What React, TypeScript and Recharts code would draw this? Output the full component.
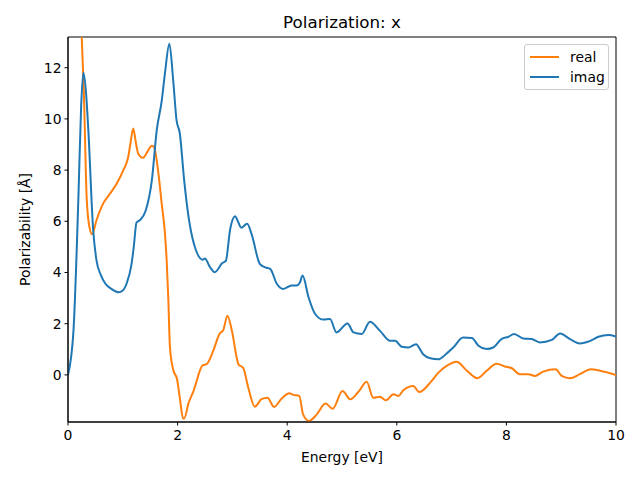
import { LineChart, Line, XAxis, YAxis, ReferenceArea } from 'recharts'

const imagEnergy = [
  0, 0.1, 0.19, 0.24, 0.28, 0.33, 0.37, 0.46, 0.52, 0.6, 0.68, 0.8, 0.92, 1.0, 1.07, 1.16, 1.2, 1.25, 1.31, 1.42,
  1.53, 1.62, 1.71, 1.77, 1.85, 1.92, 1.98, 2.04, 2.12, 2.2, 2.3, 2.46, 2.5, 2.58, 2.68, 2.76, 2.8, 2.88, 2.96, 3.05,
  3.1, 3.16, 3.27, 3.35, 3.5, 3.6, 3.69, 3.81, 3.93, 4.08, 4.17, 4.23, 4.28, 4.39, 4.51, 4.66, 4.78, 4.9, 5.1, 5.21,
  5.36, 5.51, 5.69, 5.88, 5.97, 6.09, 6.21, 6.35, 6.48, 6.61, 6.76, 6.88, 7.03, 7.21, 7.37, 7.49, 7.64, 7.76, 7.91, 8.04,
  8.14, 8.31, 8.46, 8.61, 8.83, 8.98, 9.16, 9.34, 9.53, 9.68, 9.86, 10,
]
const imagValues = [
  0, 1.73, 6.95, 10.5, 11.8, 11.0, 9.6, 5.65, 4.47, 3.9, 3.57, 3.35, 3.23, 3.3, 3.57, 4.34, 5.0, 5.95, 6.04, 6.43,
  7.6, 9.57, 10.7, 11.8, 12.94, 11.5, 9.96, 9.44, 7.6, 6.17, 5.1, 4.5, 4.55, 4.25, 4.01, 4.2, 4.34, 4.45, 5.7, 6.2,
  6.0, 5.75, 5.9, 5.5, 4.34, 4.2, 4.14, 3.56, 3.36, 3.49, 3.49, 3.6, 3.88, 3.03, 2.38, 2.16, 2.18, 1.66, 2.01, 1.66,
  1.6, 2.08, 1.73, 1.33, 1.33, 1.1, 1.07, 1.2, 0.81, 0.65, 0.61, 0.78, 1.07, 1.46, 1.44, 1.14, 1.01, 1.07, 1.4, 1.49,
  1.6, 1.42, 1.4, 1.27, 1.37, 1.62, 1.4, 1.23, 1.33, 1.49, 1.56, 1.5,
]

const realEnergy = [
  0, 0.1, 0.2, 0.25, 0.29, 0.34, 0.39, 0.44, 0.52, 0.64, 0.77, 0.89, 1.01, 1.1, 1.14, 1.19, 1.24, 1.28, 1.37, 1.45,
  1.53, 1.57, 1.65, 1.71, 1.77, 1.8, 1.83, 1.86, 1.92, 1.99, 2.04, 2.1, 2.12, 2.2, 2.29, 2.46, 2.53, 2.65, 2.77, 2.83,
  2.91, 2.99, 3.11, 3.2, 3.29, 3.41, 3.53, 3.64, 3.76, 3.9, 4.04, 4.11, 4.22, 4.29, 4.4, 4.54, 4.7, 4.83, 5.01, 5.15,
  5.3, 5.45, 5.57, 5.69, 5.8, 5.94, 6.03, 6.12, 6.3, 6.41, 6.61, 6.76, 6.91, 7.09, 7.28, 7.47, 7.64, 7.82, 7.97, 8.1,
  8.24, 8.4, 8.52, 8.67, 8.9, 9.01, 9.16, 9.34, 9.54, 9.71, 10,
]
const realValues = [
  15, 17, 18, 13.3, 11, 6.95, 5.78, 5.49, 6.04, 6.69, 7.09, 7.48, 8.0, 8.52, 9.05, 9.63, 9.05, 8.65, 8.48, 8.72,
  8.95, 8.9, 7.87, 6.69, 5.5, 4.5, 3.0, 1.1, 0.2, -0.17, -0.89, -1.7, -1.7, -1.1, -0.63, 0.38, 0.42, 0.94, 1.62, 1.73,
  2.31, 1.73, 0.42, 0.26, -0.5, -1.24, -0.95, -0.89, -1.25, -0.92, -0.72, -0.78, -0.82, -1.54, -1.8, -1.54, -1.12, -1.32, -0.63, -0.95,
  -0.66, -0.27, -0.89, -0.85, -0.99, -0.76, -0.82, -0.6, -0.43, -0.67, -0.3, 0.09, 0.35, 0.51, 0.16, -0.13, 0.16, 0.44, 0.33, 0.26,
  0.03, 0.03, -0.04, 0.13, 0.22, -0.04, -0.13, 0.03, 0.22, 0.16, -0.01,
]

const xTicks = [0, 2, 4, 6, 8, 10]
const yTicks = [0, 2, 4, 6, 8, 10, 12]
const yMin = -1.84
const yMax = 13.2

const realData = realEnergy.map((x, i) => ({ x, y: realValues[i] }))
const imagData = imagEnergy.map((x, i) => ({ x, y: imagValues[i] }))

const font = '"DejaVu Sans", sans-serif'
const tickStyle = { fontSize: 13.9, fill: '#000', fontFamily: font }

function LegendBox() {
  const items = [
    { name: 'real', color: '#ff7f0e' },
    { name: 'imag', color: '#1f77b4' },
  ]
  return (
    <div
      style={{
        position: 'absolute',
        left: 524,
        top: 44,
        width: 85,
        height: 46,
        border: '1px solid #cccccc',
        borderRadius: 3,
        background: 'rgba(255,255,255,0.8)',
        fontFamily: font,
        fontSize: 13.9,
        boxSizing: 'border-box',
        paddingTop: 2,
      }}
    >
      {items.map((it) => (
        <div key={it.name} style={{ display: 'flex', alignItems: 'center', height: 20, lineHeight: '20px' }}>
          <div style={{ width: 29, height: 2, background: it.color, marginLeft: 5, marginRight: 11 }} />
          <span style={{ color: '#000' }}>{it.name}</span>
        </div>
      ))}
    </div>
  )
}

export default function App() {
  return (
    <div style={{ position: 'absolute', left: 0, top: 0, width: 640, height: 480, background: '#fff' }}>
      <div
        style={{
          position: 'absolute',
          left: 68,
          width: 548,
          top: 12,
          textAlign: 'center',
          fontFamily: font,
          fontSize: 16.7,
          color: '#000',
        }}
      >
        Polarization: x
      </div>
      <LineChart width={640} height={480} margin={{ top: 37, right: 24, bottom: 28, left: 8 }}>
        <XAxis
          type="number"
          dataKey="x"
          domain={[0, 10]}
          ticks={xTicks}
          allowDataOverflow
          stroke="#000"
          tickSize={3.5}
          tickMargin={5}
          tick={tickStyle}
          height={30}
          label={{ value: 'Energy [eV]', position: 'insideBottom', offset: -10, style: tickStyle }}
        />
        <YAxis
          type="number"
          dataKey="y"
          domain={[yMin, yMax]}
          ticks={yTicks}
          allowDataOverflow
          stroke="#000"
          tickSize={3.5}
          tickMargin={3}
          tick={tickStyle}
          width={60}
          label={{
            value: 'Polarizability [Å]',
            angle: -90,
            position: 'center',
            dx: -13,
            style: { ...tickStyle, textAnchor: 'middle' },
          }}
        />
        <ReferenceArea x1={0} x2={10} y1={yMin} y2={yMax} fill="none" stroke="#000" strokeWidth={1} />
        <Line
          data={realData}
          dataKey="y"
          name="real"
          type="monotone"
          stroke="#ff7f0e"
          strokeWidth={2}
          dot={false}
          isAnimationActive={false}
        />
        <Line
          data={imagData}
          dataKey="y"
          name="imag"
          type="monotone"
          stroke="#1f77b4"
          strokeWidth={2}
          dot={false}
          isAnimationActive={false}
        />
      </LineChart>
      <LegendBox />
    </div>
  )
}
